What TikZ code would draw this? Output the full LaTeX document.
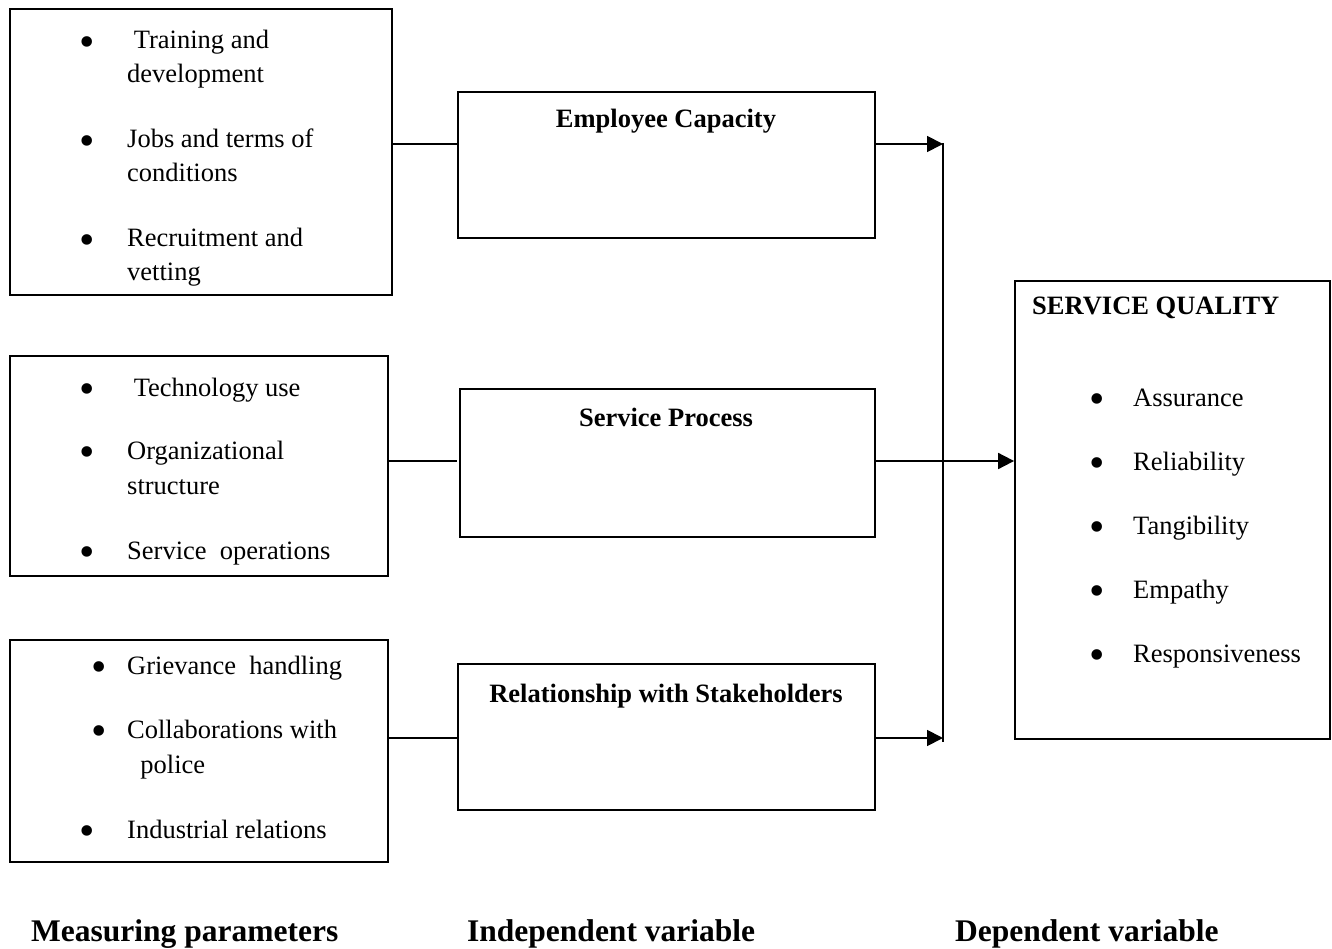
\documentclass[tikz,border=0pt]{standalone}
\usepackage{fontspec}
\setmainfont{Liberation Serif}
\usetikzlibrary{arrows.meta}
\begin{document}
\begin{tikzpicture}[x=1pt,y=-1pt,
  box/.style={draw,line width=1.8pt,inner sep=0pt},
  txt/.style={anchor=base west,inner sep=0pt,font=\fontsize{26.5}{30}\selectfont},
  btxt/.style={anchor=base,inner sep=0pt,font=\fontsize{26.5}{30}\selectfont\bfseries},
  lbl/.style={anchor=base west,inner sep=0pt,font=\fontsize{31.5}{34}\selectfont\bfseries},
  bul/.style={anchor=center,inner sep=0pt,font=\fontsize{44}{44}\selectfont},
  conn/.style={line width=1.8pt},
  arr/.style={line width=1.8pt,-{Triangle[length=16pt,width=16pt]}}]
\useasboundingbox (0,0) rectangle (1332,949);
% boxes
\node[box,minimum width=382pt,minimum height=286pt] (A1) at (201,152) {};
\node[box,minimum width=378pt,minimum height=220pt] (A2) at (199,466) {};
\node[box,minimum width=378pt,minimum height=222pt] (A3) at (199,751) {};
\node[box,minimum width=417pt,minimum height=146pt] (B1) at (666.5,165) {};
\node[box,minimum width=415pt,minimum height=148pt] (B2) at (667.5,463) {};
\node[box,minimum width=417pt,minimum height=146pt] (B3) at (666.5,737) {};
\node[box,minimum width=315pt,minimum height=458pt] (C) at (1172.5,510) {};
% A1 texts
\node[bul] (a1b1) at (87,47) {\textbullet};
\node[txt] (a1t1) at (127,49) {\ Training and};
\node[txt] (a1t2) at (127,83) {development};
\node[bul] (a1b2) at (87,146) {\textbullet};
\node[txt] (a1t3) at (127,148) {Jobs and terms of};
\node[txt] (a1t4) at (127,182) {conditions};
\node[bul] (a1b3) at (87,245) {\textbullet};
\node[txt] (a1t5) at (127,247) {Recruitment and};
\node[txt] (a1t6) at (127,281) {vetting};
% A2 texts
\node[bul] (a2b1) at (87,394) {\textbullet};
\node[txt] (a2t1) at (127,396) {\ Technology use};
\node[bul] (a2b2) at (87,457) {\textbullet};
\node[txt] (a2t2) at (127,459) {Organizational};
\node[txt] (a2t3) at (127,494) {structure};
\node[bul] (a2b3) at (87,557) {\textbullet};
\node[txt] (a2t4) at (127,559) {Service~ operations};
% A3 texts
\node[bul] (a3b1) at (99,672) {\textbullet};
\node[txt] (a3t1) at (127,674) {Grievance~ handling};
\node[bul] (a3b2) at (99,736) {\textbullet};
\node[txt] (a3t2) at (127,738) {Collaborations with};
\node[txt] (a3t3) at (127,773) {~ police};
\node[bul] (a3b3) at (87,836) {\textbullet};
\node[txt] (a3t4) at (127,838) {Industrial relations};
% B titles
\node[btxt] (b1t) at (666,128) {Employee Capacity};
\node[btxt] (b2t) at (666,426) {Service Process};
\node[btxt] (b3t) at (666,702) {Relationship with Stakeholders};
% C texts
\node[txt,font=\fontsize{26.5}{30}\selectfont\bfseries] (ct) at (1032,315) {SERVICE QUALITY};
\node[bul] (cb1) at (1097,404) {\textbullet};
\node[txt] (c1) at (1133,406) {Assurance};
\node[bul] (cb2) at (1097,468) {\textbullet};
\node[txt] (c2) at (1133,470) {Reliability};
\node[bul] (cb3) at (1097,532) {\textbullet};
\node[txt] (c3) at (1133,534) {Tangibility};
\node[bul] (cb4) at (1097,596) {\textbullet};
\node[txt] (c4) at (1133,598) {Empathy};
\node[bul] (cb5) at (1097,660) {\textbullet};
\node[txt] (c5) at (1133,662) {Responsiveness};
% bottom labels
\node[lbl] (l1) at (31,941) {Measuring parameters};
\node[lbl] (l2) at (467,941) {Independent variable};
\node[lbl] (l3) at (955,941) {Dependent variable};
% connectors
\coordinate (y1) at (0,144);
\coordinate (y2) at (0,461);
\coordinate (y3) at (0,738);
\coordinate (j1) at (943,143);
\coordinate (j3) at (943,742);
\draw[conn] (A1.east |- y1) -- (B1.west |- y1);
\draw[conn] (A2.east |- y2) -- ([xshift=-2pt]B2.west |- y2);
\draw[conn] (A3.east |- y3) -- (B3.west |- y3);
\draw[conn] (j1) -- (j3);
\draw[arr] (B1.east |- y1) -- (j1 |- y1);
\draw[arr] (B3.east |- y3) -- (j1 |- y3);
\draw[arr] (B2.east |- y2) -- (C.west |- y2);
\end{tikzpicture}
\end{document}
